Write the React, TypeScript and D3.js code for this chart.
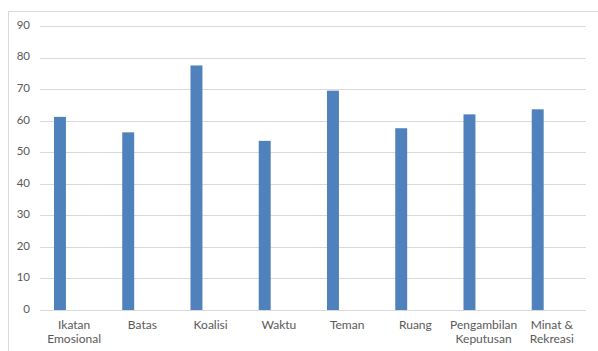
import React from 'react';
import * as d3 from 'd3';

const categories = [
  ['Ikatan', 'Emosional'],
  ['Batas'],
  ['Koalisi'],
  ['Waktu'],
  ['Teman'],
  ['Ruang'],
  ['Pengambilan', 'Keputusan'],
  ['Minat &', 'Rekreasi'],
];
const values = [61.2, 56.3, 77.5, 53.6, 69.5, 57.6, 62.0, 63.6];
const yTicks = [0, 10, 20, 30, 40, 50, 60, 70, 80, 90];

export default function App() {
  const width = 598;
  const height = 351;
  const keys = categories.map((c) => c.join(' '));

  const x = d3.scaleBand<string>().domain(keys).range([40, 586]);
  const y = d3.scaleLinear().domain([0, 90]).range([310, 26]);
  const bw = x.bandwidth();

  const font = "Lato, 'Open Sans', sans-serif";

  return (
    <svg
      width={width}
      height={height}
      style={{ position: 'absolute', left: 0, top: 0, background: '#fff' }}
    >
      <rect x={8.5} y={11.5} width={620} height={400} fill="#fff" stroke="#d9d9d9" />

      {/* gridlines */}
      {yTicks.map((t) => (
        <g key={t}>
          <line
            x1={40}
            x2={586}
            y1={Math.round(y(t)) + 0.5}
            y2={Math.round(y(t)) + 0.5}
            stroke="#d9d9d9"
            strokeWidth={1}
          />
          <text
            x={30}
            y={y(t)}
            textAnchor="end"
            dominantBaseline="middle"
            fontFamily={font}
            fontSize={11.5}
            fill="#595959"
          >
            {t}
          </text>
        </g>
      ))}

      {/* bars */}
      {keys.map((k, i) => (
        <rect
          key={k}
          x={x(k)! + bw * 0.205}
          y={y(values[i])}
          width={bw * 0.175}
          height={y(0) - y(values[i])}
          fill="#4f81bd"
        />
      ))}

      {/* category labels */}
      {categories.map((lines, i) => (
        <text
          key={keys[i]}
          x={x(keys[i])! + bw / 2}
          y={329}
          textAnchor="middle"
          fontFamily={font}
          fontSize={12}
          fill="#595959"
        >
          {lines.map((l, j) => (
            <tspan key={j} x={x(keys[i])! + bw / 2} dy={j === 0 ? 0 : 14}>
              {l}
            </tspan>
          ))}
        </text>
      ))}
    </svg>
  );
}
